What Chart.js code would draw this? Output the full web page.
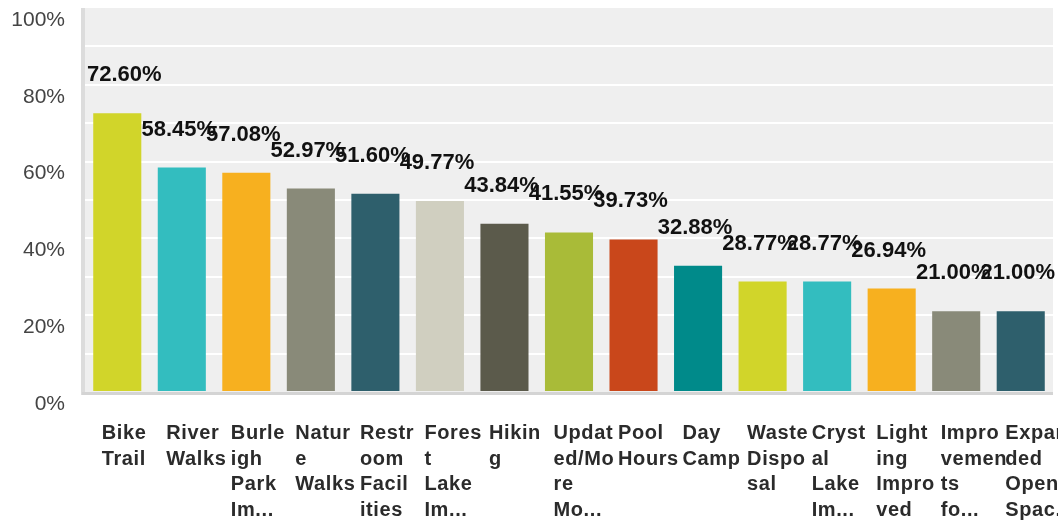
<!DOCTYPE html>
<html><head><meta charset="utf-8">
<script src="https://cdn.jsdelivr.net/npm/chart.js@4.4.1/dist/chart.umd.min.js"></script>
<style>html,body{margin:0;padding:0;background:#fff;}#wrap{width:1058px;height:525px;position:relative;}</style>
</head><body><div id="wrap"><canvas id="c"></canvas></div>
<script>
const categories = ["Bike Trail","River Walks","Burleigh Park Im...","Nature Walks","Restroom Facilities","Forest Lake Im...","Hiking","Updated/More Mo...","Pool Hours","Day Camp","Waste Disposal","Crystal Lake Im...","Lighting Improved","Improvements fo...","Expanded Open Spac..."];
const tickLabels = [["Bike","Trail"],["River","Walks"],["Burle","igh","Park","Im..."],["Natur","e","Walks"],["Restr","oom","Facil","ities"],["Fores","t","Lake","Im..."],["Hikin","g"],["Updat","ed/Mo","re","Mo..."],["Pool","Hours"],["Day","Camp"],["Waste","Dispo","sal"],["Cryst","al","Lake","Im..."],["Light","ing","Impro","ved"],["Impro","vemen","ts","fo..."],["Expan","ded","Open","Spac..."]];
const values = [72.60,58.45,57.08,52.97,51.60,49.77,43.84,41.55,39.73,32.88,28.77,28.77,26.94,21.00,21.00];
const valueLabels = ["72.60%","58.45%","57.08%","52.97%","51.60%","49.77%","43.84%","41.55%","39.73%","32.88%","28.77%","28.77%","26.94%","21.00%","21.00%"];
const barColors = ["#d1d52a","#33bdbf","#f7b01f","#898a79","#2e5f6c","#d0cfc0","#5b5a4b","#a9bb38","#c9471b","#008a8a","#d1d52a","#33bdbf","#f7b01f","#898a79","#2e5f6c"];

const decor = {
  id: 'decor',
  beforeDraw(chart) {
    const {ctx, chartArea: a} = chart;
    ctx.save();
    ctx.fillStyle = '#efefef';
    ctx.fillRect(a.left, a.top, a.right - a.left, a.bottom - a.top);
    ctx.restore();
  },
  beforeDatasetsDraw(chart) {
    const {ctx, chartArea: a} = chart;
    ctx.save();
    ctx.fillStyle = '#dcdcdc';
    ctx.fillRect(a.left - 4, a.top, 4, a.bottom - a.top + 3);
    ctx.fillStyle = '#d4d4d4';
    ctx.fillRect(a.left - 3, a.bottom, a.right - a.left + 3, 3);
    ctx.restore();
  },
  afterDatasetsDraw(chart) {
    const {ctx, chartArea: a} = chart;
    const meta = chart.getDatasetMeta(0);
    ctx.save();
    ctx.letterSpacing = '0px';
    ctx.font = 'bold 22px "Liberation Sans", Arial, sans-serif';
    ctx.fillStyle = '#111';
    ctx.textAlign = 'left';
    ctx.textBaseline = 'alphabetic';
    meta.data.forEach((bar, i) => {
      const t = valueLabels[i];
      const w = ctx.measureText(t).width;
      let left = bar.x - 3 - w / 2;
      if (left < a.left + 2) left = a.left + 2;
      ctx.fillText(t, left, bar.y - 32);
    });
    ctx.restore();
    ctx.letterSpacing = '0.6px';
  },
  afterDraw(chart) {
    chart.ctx.letterSpacing = '0px';
  }
};

new Chart(document.getElementById('c'), {
  type: 'bar',
  data: {
    labels: tickLabels,
    datasets: [{
      data: values,
      backgroundColor: barColors,
      borderWidth: 0,
      barPercentage: 0.745,
      categoryPercentage: 1.0
    }]
  },
  options: {
    responsive: true,
    maintainAspectRatio: false,
    animation: false,
    devicePixelRatio: 1,
    layout: { padding: { top: 8, right: 5, left: 0, bottom: 0 } },
    plugins: { legend: { display: false }, tooltip: { enabled: false } },
    scales: {
      x: {
        grid: { display: false, drawTicks: false },
        border: { display: false },
        ticks: {
          autoSkip: false, maxRotation: 0, minRotation: 0,
          align: 'start', labelOffset: -15.5, padding: 29, z: 1,
          color: '#2b2b2b',
          font: { family: '"Liberation Sans", Arial, sans-serif', size: 20, weight: 'bold', lineHeight: 1.275 }
        },
        afterFit(s) { s.paddingLeft = 0; s.paddingRight = 0; s.height = 133; }
      },
      y: {
        min: 0, max: 100,
        grid: {
          drawTicks: false,
          lineWidth: 2,
          color: (c) => (c.tick && (c.tick.value === 100 || c.tick.value === 0)) ? 'rgba(0,0,0,0)' : '#ffffff'
        },
        border: { display: false },
        ticks: {
          stepSize: 10,
          padding: 20,
          labelOffset: 12,
          color: '#444',
          font: { family: '"Liberation Sans", Arial, sans-serif', size: 21 },
          callback: (v) => (v % 20 === 0 ? v + '%' : '')
        },
        afterFit(s) { s.width = 85; s.paddingTop = 0; s.paddingBottom = 0; }
      }
    }
  },
  plugins: [decor]
});
</script>
</body></html>
